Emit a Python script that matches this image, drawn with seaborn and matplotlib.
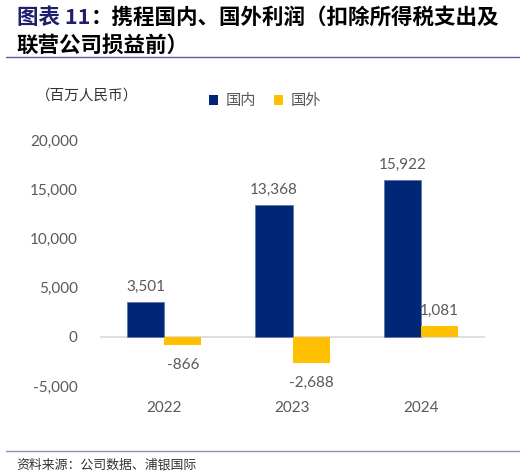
import matplotlib
matplotlib.use("Agg")
import matplotlib.pyplot as plt
import seaborn as sns
import pandas as pd
from matplotlib.lines import Line2D

years = ["2022", "2023", "2024"]
domestic = [3501, 13368, 15922]
overseas = [-866, -2688, 1081]
series_names = ["国内", "国外"]
y_ticks = [-5000, 0, 5000, 10000, 15000, 20000]

navy = "#002776"
yellow = "#FFC000"
grey = "#595959"

df = pd.DataFrame({
    "year": years * 2,
    "value": domestic + overseas,
    "region": [series_names[0]] * 3 + [series_names[1]] * 3,
})

sns.set_theme(style="white")
plt.rcParams["font.family"] = ["Lato", "Noto Sans CJK SC", "DejaVu Sans"]
cjk = ["Noto Sans CJK SC", "DejaVu Sans"]

fig = plt.figure(figsize=(5.25, 4.76), dpi=100)
ax = fig.add_axes([0.1905, 0.189, 0.7333, 0.517])

sns.barplot(data=df, x="year", y="value", hue="region",
            palette=[navy, yellow], saturation=1, width=0.58, gap=0,
            edgecolor="#5a78b0", linewidth=0.6, ax=ax, legend=True)
for bar in ax.containers[1]:
    bar.set_edgecolor("none")

ax.set_xlim(-0.5, 2.5)
ax.set_ylim(-5000, 20000)
ax.set_yticks(y_ticks)
ax.set_yticklabels([f"{v:,}" for v in y_ticks])
ax.axhline(0, color="#d9d9d9", lw=1.2, zorder=0)
for s in ax.spines.values():
    s.set_visible(False)
ax.tick_params(axis="y", length=0, pad=16, labelsize=11, labelcolor=grey)
ax.tick_params(axis="x", length=0, pad=11, labelsize=11, labelcolor=grey)
ax.set_xlabel("")
ax.set_ylabel("")

# data labels
for cont in ax.containers:
    for bar in cont:
        h = bar.get_height()
        x = bar.get_x() + bar.get_width() / 2
        if h >= 0:
            ax.annotate(f"{int(round(h)):,}", (x, h), xytext=(0, 6),
                        textcoords="offset points", ha="center", va="bottom",
                        fontsize=11, color=grey)
        else:
            ax.annotate(f"{int(round(h)):,}", (x, h), xytext=(0, -9),
                        textcoords="offset points", ha="center", va="top",
                        fontsize=11, color=grey)

# legend
handles, labels = ax.get_legend_handles_labels()
ax.legend(handles, labels, loc="center", bbox_to_anchor=(0.505, 0.788),
          bbox_transform=fig.transFigure, ncol=2, frameon=False,
          handlelength=0.6, handleheight=0.6, handletextpad=0.5,
          columnspacing=1.2, prop={"family": cjk, "size": 11},
          labelcolor=grey)
for h in ax.get_legend().legend_handles:
    h.set_edgecolor("none")

# title
t1 = fig.text(0.032, 0.963, "图表 11", family=cjk, fontsize=15.5,
              fontweight="bold", color="#1f1f6e", va="center", ha="left")
ax.annotate("：携程国内、国外利润（扣除所得税支出及", xy=(1, 0.5),
            xycoords=t1, va="center", ha="left", family=cjk,
            fontsize=15.5, fontweight="bold", color="black")
fig.text(0.032, 0.906, "联营公司损益前）", family=cjk, fontsize=15.5,
         fontweight="bold", color="black", va="center", ha="left")

fig.add_artist(Line2D([0.012, 0.988], [0.88, 0.88], color="#5b5b9e",
                      lw=1.0, transform=fig.transFigure))
fig.add_artist(Line2D([0.012, 0.988], [0.052, 0.052], color="#8f8fbf",
                      lw=1.0, transform=fig.transFigure))

fig.text(0.068, 0.80, "（百万人民币）", family=cjk, fontsize=10.5,
         color="#333333", va="center", ha="left")
fig.text(0.032, 0.024, "资料来源：公司数据、浦银国际", family=cjk,
         fontsize=9.3, color="#333333", va="center", ha="left")

fig.savefig("out.png", dpi=100)
